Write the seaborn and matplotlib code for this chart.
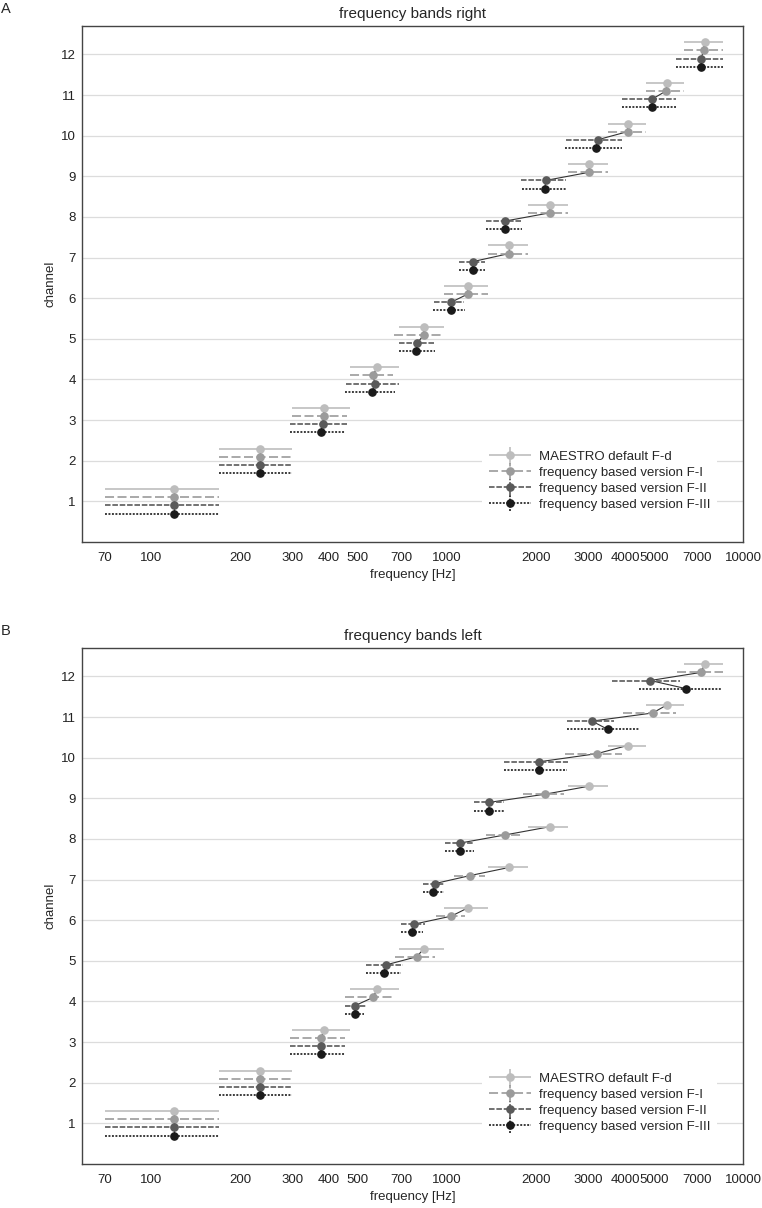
import numpy as np
import pandas as pd
import matplotlib
matplotlib.use('Agg')
import matplotlib.pyplot as plt
import seaborn as sns
from matplotlib.container import ErrorbarContainer
from matplotlib.legend_handler import HandlerErrorbar
from matplotlib.ticker import NullLocator

CHANNELS = list(range(1, 13))
VERSIONS = ['MAESTRO default F-d', 'frequency based version F-I',
            'frequency based version F-II', 'frequency based version F-III']

# MAESTRO default (same on both sides)
FD_LOW = [70, 170, 300, 469, 689, 980, 1371, 1876, 2557, 3499, 4714, 6334]
FD_CENTER = [120, 234, 384, 580, 836, 1174, 1624, 2221, 3024, 4075, 5537, 7413]
FD_HIGH = [170, 300, 469, 689, 980, 1371, 1876, 2557, 3499, 4714, 6334, 8557]

# right side
RIGHT_FI_LOW = [70, 170, 300, 469, 660, 980, 1371, 1876, 2557, 3499, 4714, 6334]
RIGHT_FI_CENTER = [120, 234, 384, 563, 836, 1174, 1624, 2221, 3024, 4075, 5500, 7356]
RIGHT_FI_HIGH = [170, 300, 461, 657, 980, 1371, 1876, 2557, 3499, 4714, 6334, 8557]

RIGHT_FII_LOW = [70, 170, 295, 457, 686, 906, 1094, 1358, 1782, 2530, 3898, 5953]
RIGHT_FII_CENTER = [120, 234, 380, 570, 794, 1032, 1221, 1574, 2160, 3228, 4927, 7226]
RIGHT_FII_HIGH = [170, 300, 461, 686, 910, 1144, 1347, 1792, 2530, 3898, 5953, 8557]

RIGHT_FIII_LOW = [70, 170, 295, 452, 686, 900, 1094, 1358, 1790, 2510, 3898, 5953]
RIGHT_FIII_CENTER = [120, 234, 374, 560, 787, 1032, 1221, 1574, 2138, 3188, 4927, 7226]
RIGHT_FIII_HIGH = [170, 300, 452, 668, 910, 1154, 1347, 1792, 2530, 3910, 5953, 8557]

# left side
LEFT_FI_LOW = [70, 170, 295, 451, 668, 920, 1053, 1354, 1800, 2510, 3932, 5984]
LEFT_FI_CENTER = [120, 234, 376, 563, 790, 1034, 1199, 1574, 2138, 3213, 4950, 7226]
LEFT_FI_HIGH = [170, 300, 452, 668, 912, 1153, 1347, 1781, 2477, 3910, 5953, 8557]

LEFT_FII_LOW = [70, 170, 295, 451, 532, 699, 830, 982, 1237, 1562, 2540, 3609]
LEFT_FII_CENTER = [120, 234, 376, 490, 622, 771, 908, 1109, 1387, 2050, 3090, 4862]
LEFT_FII_HIGH = [170, 300, 451, 532, 710, 840, 987, 1233, 1553, 2556, 3654, 6140]

LEFT_FIII_LOW = [70, 170, 295, 451, 532, 699, 830, 982, 1237, 1562, 2540, 4440]
LEFT_FIII_CENTER = [120, 234, 374, 488, 611, 762, 899, 1103, 1387, 2040, 3488, 6418]
LEFT_FIII_HIGH = [170, 300, 451, 525, 699, 827, 980, 1233, 1553, 2540, 4440, 8447]

XTICKS = [70, 100, 200, 300, 400, 500, 600, 700, 800, 900, 1000,
          2000, 3000, 4000, 5000, 6000, 7000, 8000, 9000, 10000]
XTICKLABELS = ['70', '100', '200', '300', '400', '500', '', '700', '', '', '1000',
               '2000', '3000', '4000', '5000', '', '7000', '', '', '10000']

COLORS = ['#bdbdbd', '#9b9b9b', '#5a5a5a', '#1a1a1a']
DASHES = ['-', (0, (6.5, 2.5)), (0, (4, 1.3)), (0, (1.4, 1.1))]
OFFSETS = [0.3, 0.1, -0.1, -0.3]


def build_frame(bands):
    rows = []
    for ch_idx, ch in enumerate(CHANNELS):
        for v, (lo, c, hi) in enumerate(bands):
            rows.append({'channel': ch, 'version': VERSIONS[v], 'low': lo[ch_idx],
                         'center': c[ch_idx], 'high': hi[ch_idx], 'y': ch + OFFSETS[v]})
    return pd.DataFrame(rows)


def plot_bands(df, ax, title):
    ax.set_xscale('log')
    # thin line joining the four versions of each channel
    sns.lineplot(data=df, x='center', y='y', units='channel', estimator=None, sort=False,
                 color='#333333', lw=0.8, legend=False, zorder=2, ax=ax)
    handles = []
    for i, name in enumerate(VERSIONS):
        d = df[df.version == name]
        xerr = [d.center - d.low, d.high - d.center]
        eb = ax.errorbar(d.center, d.y, xerr=xerr, yerr=np.zeros(len(d)), fmt='o', ms=5.2,
                         color=COLORS[i], ecolor=COLORS[i], elinewidth=1.2, capsize=0, zorder=3)
        eb[2][0].set_linestyle(DASHES[i])
        eb[2][1].set_color('#555555')
        eb[2][1].set_linewidth(1.0)
        eb[2][1].set_capstyle('butt')
        handles.append(eb)

    ax.set_xlim(58.5, 10000)
    ax.set_ylim(0, 12.7)
    ax.xaxis.set_minor_locator(NullLocator())
    ax.set_xticks(XTICKS)
    ax.set_xticklabels(XTICKLABELS)
    ax.set_yticks(CHANNELS)
    ax.tick_params(axis='x', direction='in', length=4, width=0.8, color='#333333', pad=7,
                   labelsize=9.5, labelcolor='#222222')
    ax.tick_params(axis='y', length=0, pad=4.5, labelsize=9.5, labelcolor='#222222')
    ax.yaxis.grid(True, color='#dcdcdc', lw=0.9)
    ax.xaxis.grid(False)
    ax.set_axisbelow(True)
    for s in ax.spines.values():
        s.set_color('#444444')
        s.set_linewidth(1.0)
    ax.set_xlabel('frequency [Hz]', fontsize=9.5, labelpad=4)
    ax.set_ylabel('channel', fontsize=9.5, labelpad=3)
    ax.set_title(title, fontsize=11, pad=6)
    ax.legend(handles, VERSIONS, loc='lower right', bbox_to_anchor=(0.971, 0.035),
              handler_map={ErrorbarContainer: HandlerErrorbar(xerr_size=1.6, yerr_size=0.62)},
              handlelength=3.2, handletextpad=0.6, labelspacing=0.28, fontsize=9.5,
              frameon=True, edgecolor='none', facecolor='white', framealpha=1,
              fancybox=False, borderpad=0.5)
    return ax


def main():
    sns.set_style('white')
    plt.rcParams['font.family'] = ['Liberation Sans', 'DejaVu Sans']
    plt.rcParams['lines.scale_dashes'] = False

    right = build_frame([(FD_LOW, FD_CENTER, FD_HIGH),
                         (RIGHT_FI_LOW, RIGHT_FI_CENTER, RIGHT_FI_HIGH),
                         (RIGHT_FII_LOW, RIGHT_FII_CENTER, RIGHT_FII_HIGH),
                         (RIGHT_FIII_LOW, RIGHT_FIII_CENTER, RIGHT_FIII_HIGH)])
    left = build_frame([(FD_LOW, FD_CENTER, FD_HIGH),
                        (LEFT_FI_LOW, LEFT_FI_CENTER, LEFT_FI_HIGH),
                        (LEFT_FII_LOW, LEFT_FII_CENTER, LEFT_FII_HIGH),
                        (LEFT_FIII_LOW, LEFT_FIII_CENTER, LEFT_FIII_HIGH)])

    fig = plt.figure(figsize=(7.62, 12.08), dpi=100)
    ax_a = fig.add_axes([82 / 762, 1 - 542 / 1208, 661 / 762, 516 / 1208])
    ax_b = fig.add_axes([82 / 762, 1 - 1164 / 1208, 661 / 762, 516 / 1208])
    plot_bands(right, ax_a, 'frequency bands right')
    plot_bands(left, ax_b, 'frequency bands left')
    fig.text(1 / 762, 1 - 9 / 1208, 'A', fontsize=10.5, va='center', ha='left')
    fig.text(1 / 762, 1 - 631 / 1208, 'B', fontsize=10.5, va='center', ha='left')

    fig.savefig('out.png', dpi=100)


if __name__ == '__main__':
    main()
